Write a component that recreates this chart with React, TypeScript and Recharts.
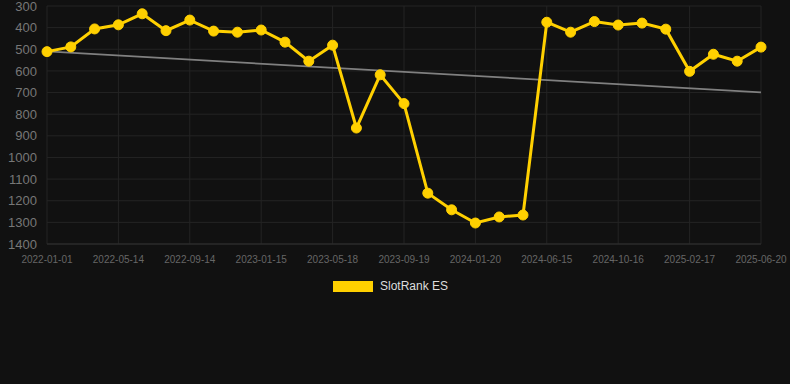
import { LineChart, Line, XAxis, YAxis, CartesianGrid, Legend } from "recharts";

const dates = [
  "2022-01-01", "2022-02-13", "2022-03-29", "2022-05-14", "2022-06-27", "2022-08-10",
  "2022-09-14", "2022-10-28", "2022-12-11", "2023-01-15", "2023-02-28", "2023-04-13",
  "2023-05-18", "2023-06-30", "2023-08-14", "2023-09-19", "2023-10-31", "2023-12-14",
  "2024-01-20", "2024-03-05", "2024-04-19", "2024-06-15", "2024-07-29", "2024-09-10",
  "2024-10-16", "2024-11-29", "2025-01-10", "2025-02-17", "2025-04-01", "2025-05-12",
  "2025-06-20",
];

const rank = [
  511, 489, 406, 387, 336, 414, 365, 416, 421, 411,
  467, 555, 481, 864, 618, 751, 1165, 1242, 1303, 1275,
  1266, 375, 421, 372, 388, 379, 407, 602, 523, 555,
  490,
];

// trend endpoints
const trendStart = 510;
const trendEnd = 699;

const yTicks = [300, 400, 500, 600, 700, 800, 900, 1000, 1100, 1200, 1300, 1400];

const data = dates.map((d, i) => ({
  date: d,
  rank: rank[i],
  trend: i === 0 ? trendStart : i === dates.length - 1 ? trendEnd : null,
}));

const LegendBox = () => (
  <div style={{ display: "flex", justifyContent: "center", alignItems: "center", gap: 7 }}>
    <span style={{ width: 40, height: 11, background: "#FFD000", display: "inline-block" }} />
    <span style={{ color: "#dddddd", fontSize: 12, fontFamily: "Liberation Sans, Arial, sans-serif" }}>SlotRank ES</span>
  </div>
);

export default function App() {
  return (
    <div style={{ width: 790, height: 384, background: "#111111", position: "absolute", left: 0, top: 0 }}>
      <style>{`body{margin:0;background:#111111}`}</style>
      <LineChart
        width={790}
        height={384}
        data={data}
        margin={{ top: 6, right: 29, bottom: 106, left: 0 }}
        style={{ fontFamily: "Liberation Sans, Arial, sans-serif" }}
      >
        <CartesianGrid stroke="#242424" strokeWidth={1} />
        <XAxis
          dataKey="date"
          interval={2}
          tick={{ fontSize: 10, fill: "#666666" }}
          tickLine={false}
          axisLine={{ stroke: "#2e2e2e" }}
          tickMargin={6}
          height={20}
        />
        <YAxis
          reversed
          domain={[300, 1400]}
          ticks={yTicks}
          interval={0}
          tick={{ fontSize: 13, fill: "#777777" }}
          tickLine={false}
          axisLine={false}
          tickMargin={4}
          width={47}
        />
        <Legend
          verticalAlign="bottom"
          content={<LegendBox />}
          wrapperStyle={{ top: 279, left: 10, width: 761 }}
        />
        <Line
          dataKey="trend"
          stroke="#808080"
          strokeWidth={1.8}
          dot={false}
          connectNulls
          isAnimationActive={false}
          legendType="none"
        />
        <Line
          dataKey="rank"
          stroke="#FFD000"
          strokeWidth={3}
          dot={{ r: 5, fill: "#FFD000", stroke: "#FFD000", strokeWidth: 1 }}
          activeDot={false}
          isAnimationActive={false}
        />
      </LineChart>
    </div>
  );
}
